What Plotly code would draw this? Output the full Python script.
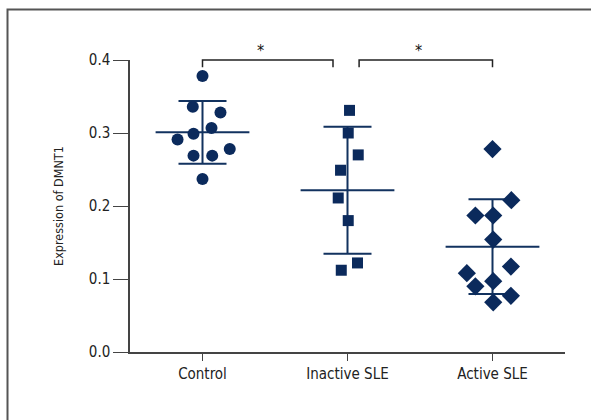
import plotly.graph_objects as go

categories = ["Control", "Inactive SLE", "Active SLE"]
control_values = [0.378, 0.336, 0.328, 0.307, 0.299, 0.291, 0.278, 0.269, 0.269, 0.237]
control_jitter = [0.0, -0.067, 0.124, 0.062, -0.062, -0.172, 0.188, -0.062, 0.067, 0.0]
inactive_values = [0.331, 0.300, 0.270, 0.249, 0.211, 0.180, 0.122, 0.112]
inactive_jitter = [0.014, 0.005, 0.074, -0.048, -0.064, 0.005, 0.069, -0.043]
active_values = [0.278, 0.208, 0.187, 0.187, 0.154, 0.117, 0.108, 0.097, 0.090, 0.077, 0.068]
active_jitter = [0.0, 0.13, -0.118, 0.005, 0.005, 0.127, -0.177, 0.005, -0.118, 0.127, 0.005]
group_means = [0.301, 0.2215, 0.1443]
group_sd = [0.043, 0.087, 0.065]
y_ticks = [0.0, 0.1, 0.2, 0.3, 0.4]
sig_pairs = [(0.0, 0.9), (1.08, 2.0)]
sig_labels = ["*", "*"]

Y_MIN, Y_MAX = 0.0, 0.4
NAVY = "#0b2a5c"
LINE = "#12325f"
FONT = "Liberation Sans Narrow, DejaVu Sans Condensed, Roboto Condensed, Arial Narrow, sans-serif"

fig = go.Figure()

# mean +/- SD (line-ew marker length is 1.4 * size)
fig.add_trace(go.Scatter(
    x=list(range(len(categories))), y=group_means, mode="markers",
    marker=dict(symbol="line-ew", size=67, color=LINE, line=dict(color=LINE, width=2)),
    error_y=dict(type="data", array=group_sd, visible=True, color=LINE, thickness=2, width=24),
    hoverinfo="skip", showlegend=False, cliponaxis=False,
))

groups = [
    (control_values, control_jitter, "circle", 12),
    (inactive_values, inactive_jitter, "square", 11),
    (active_values, active_jitter, "diamond", 14),
]
for i, (vals, jit, sym, sz) in enumerate(groups):
    fig.add_trace(go.Scatter(
        x=[i + j for j in jit], y=vals, mode="markers",
        marker=dict(symbol=sym, size=sz, color=NAVY, line=dict(width=0)),
        showlegend=False, cliponaxis=False,
    ))

def to_paper(v):
    return (v - Y_MIN) / (Y_MAX - Y_MIN)

shapes = []
top = to_paper(0.4)
drop = to_paper(0.39)
for (a, b), lab in zip(sig_pairs, sig_labels):
    shapes.append(dict(type="path", xref="x", yref="paper",
                       path=f"M {a},{drop} L {a},{top} L {b},{top} L {b},{drop}",
                       line=dict(color="#222222", width=1.5)))
    fig.add_annotation(x=(a + b) / 2 - 0.05, xref="x", y=top, yref="paper",
                       text=lab, showarrow=False, yanchor="bottom", yshift=-2,
                       font=dict(family=FONT, size=16, color="#111111"))

# outer frame (left and top edges only)
shapes.append(dict(type="path", xref="paper", yref="paper",
                   path="M -0.2816,-0.3 L -0.2816,1.173 L 1.12,1.173",
                   line=dict(color="#555555", width=2)))

fig.update_layout(
    width=591, height=420,
    margin=dict(l=130, r=26, t=60, b=68),
    paper_bgcolor="white", plot_bgcolor="white",
    shapes=shapes,
    font=dict(family=FONT, color="#222222"),
    xaxis=dict(range=[-0.5, 2.5], tickvals=list(range(len(categories))), ticktext=categories,
               showgrid=False, zeroline=False, showline=True, linecolor="#444444", linewidth=1.5,
               ticks="outside", ticklen=7, tickwidth=1.2, tickcolor="#444444",
               tickfont=dict(family=FONT, size=15, color="#222222")),
    yaxis=dict(range=[Y_MIN, Y_MAX], tickvals=y_ticks, tickformat=".1f",
               showgrid=False, zeroline=False, showline=True, linecolor="#444444", linewidth=1.5,
               ticks="outside", ticklen=15, tickwidth=1.2, tickcolor="#444444",
               tickfont=dict(family=FONT, size=15, color="#222222"),
               title=dict(text="Expression of DMNT1", standoff=22,
                          font=dict(family=FONT, size=12.5, color="#222222"))),
)

fig.write_html("out.html", config={"displayModeBar": False},
               post_script="document.body.style.margin='0';document.body.style.overflow='hidden';")
